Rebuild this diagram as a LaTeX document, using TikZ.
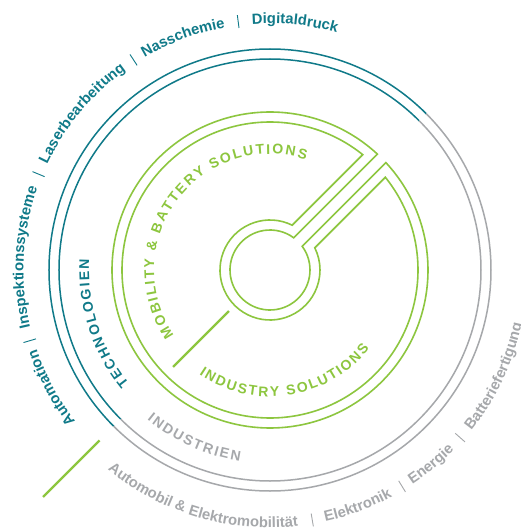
\documentclass[tikz,border=0pt]{standalone}
\usepackage{fontspec}
\setmainfont{Liberation Sans}

\definecolor{ringteal}{RGB}{16,122,137}
\definecolor{ringgray}{RGB}{166,168,171}
\definecolor{ringlime}{RGB}{141,198,63}

\newcommand\lblfont{\fontsize{14.8pt}{17pt}\selectfont\bfseries}
\newcommand\capfont{\fontsize{14pt}{16pt}\selectfont\bfseries}

\tikzset{
  ringline/.style={line width=1.5pt},
  keyline/.style={draw=ringlime, line width=1.6pt},
  spokeline/.style={draw=ringlime, line width=2.2pt},
  sepline/.style={line width=0.9pt},
  arcchar/.style={anchor=base, inner sep=0pt, outer sep=0pt}
}

% letters set one by one round a circle:
% colour, font, letter space, radius, mid angle, +1 ccw / -1 cw, text
\ExplSyntaxOn
\dim_new:N \l__arc_total_dim
\dim_new:N \l__arc_pos_dim
\box_new:N \l__arc_box
\fp_new:N \l__arc_ang_fp
\tl_new:N \l__arc_x_tl
\tl_new:N \l__arc_y_tl
\tl_new:N \l__arc_rot_tl
\cs_new_protected:Npn \__arc_measure:nn #1#2
  {
    \tl_if_blank:nTF {#2}
      { \hbox_set:Nn \l__arc_box { \pgfinterruptpicture #1 \hspace{0.278em} \endpgfinterruptpicture } }
      { \hbox_set:Nn \l__arc_box { \pgfinterruptpicture #1 #2 \endpgfinterruptpicture } }
  }
\NewDocumentCommand \arclabel { m m m m m m m }
  {
    \dim_zero:N \l__arc_total_dim
    \str_map_inline:nn {#7}
      {
        \__arc_measure:nn {#2} {##1}
        \dim_add:Nn \l__arc_total_dim { \box_wd:N \l__arc_box + #3 }
      }
    \dim_sub:Nn \l__arc_total_dim {#3}
    \dim_zero:N \l__arc_pos_dim
    \str_map_inline:nn {#7}
      {
        \__arc_measure:nn {#2} {##1}
        \fp_set:Nn \l__arc_ang_fp
          { #5 + #6 * ( \dim_to_fp:n { \l__arc_pos_dim + 0.5 \box_wd:N \l__arc_box - 0.5 \l__arc_total_dim } ) / (#4) * 180 / pi }
        \tl_set:Nx \l__arc_x_tl { \fp_eval:n { #4 * cosd ( \l__arc_ang_fp ) } }
        \tl_set:Nx \l__arc_y_tl { \fp_eval:n { #4 * sind ( \l__arc_ang_fp ) } }
        \tl_set:Nx \l__arc_rot_tl { \fp_eval:n { \l__arc_ang_fp + #6 * 90 } }
        \tl_if_blank:nF {##1} { \__arc_char:nnn {#1} {#2} {##1} }
        \dim_add:Nn \l__arc_pos_dim { \box_wd:N \l__arc_box + #3 }
      }
  }
\cs_new_protected:Npn \__arc_char:nnn #1#2#3
  {
    \node [ arcchar, text=#1, font=#2, rotate=\l__arc_rot_tl ]
      at (\l__arc_x_tl pt, \l__arc_y_tl pt) {#3};
  }
\ExplSyntaxOff

\begin{document}
\begin{tikzpicture}
\path[use as bounding box, fill=white] (-270pt,-258pt) rectangle (250pt,270pt);
\coordinate (c) at (0,0);

\draw[ringline, ringteal] (45:221pt) arc[start angle=45, end angle=225, radius=221pt];
\draw[ringline, ringteal] (45:211pt) arc[start angle=45, end angle=225, radius=211pt];
\draw[ringline, ringgray] (225:221pt) arc[start angle=225, end angle=405, radius=221pt];
\draw[ringline, ringgray] (225:211pt) arc[start angle=225, end angle=405, radius=211pt];

\pgfmathsetmacro\ain{asin(6/40)}
\pgfmathsetmacro\aout{asin(6/158)}
\pgfmathsetmacro\bin{asin(16/50)}
\pgfmathsetmacro\bout{asin(16/148)}

\draw[keyline] (45+\ain:40pt) arc[start angle=45+\ain, end angle=405-\ain, radius=40pt]
  -- (45-\aout:158pt) arc[start angle=405-\aout, end angle=45+\aout, radius=158pt] -- cycle;
\draw[keyline] (45+\bin:50pt) arc[start angle=45+\bin, end angle=405-\bin, radius=50pt]
  -- (45-\bout:148pt) arc[start angle=405-\bout, end angle=45+\bout, radius=148pt] -- cycle;

\coordinate (spokein) at (225:58pt);
\coordinate (spokemid) at (225:137pt);
\coordinate (spokeout) at (225:241pt);
\coordinate (spokeend) at (225:321pt);
\draw[spokeline] (spokein) -- (spokemid);
\draw[spokeline] (spokeout) -- (spokeend);

% Technologien
\arclabel{ringteal}{\lblfont}{0pt}{246.5}{208.3}{-1}{Automation}
\arclabel{ringteal}{\lblfont}{0pt}{246.5}{177}{-1}{Inspektionssysteme}
\arclabel{ringteal}{\lblfont}{0pt}{246.5}{140.2}{-1}{Laserbearbeitung}
\arclabel{ringteal}{\lblfont}{0pt}{246.5}{110.5}{-1}{Nasschemie}
\arclabel{ringteal}{\lblfont}{0pt}{246.5}{84.2}{-1}{Digitaldruck}
\draw[sepline, ringteal] (196.4:244pt) -- (196.4:257pt);
\draw[sepline, ringteal] (157.5:244pt) -- (157.5:257pt);
\draw[sepline, ringteal] (123:244pt) -- (123:257pt);
\draw[sepline, ringteal] (97.3:244pt) -- (97.3:257pt);

% Industrien
\arclabel{ringgray}{\lblfont}{0pt}{257.5}{253.6}{1}{Automobil & Elektromobilität}
\arclabel{ringgray}{\lblfont}{0pt}{257.5}{290.4}{1}{Elektronik}
\arclabel{ringgray}{\lblfont}{0pt}{257.5}{309.6}{1}{Energie}
\arclabel{ringgray}{\lblfont}{0pt}{257.5}{334.7}{1}{Batteriefertigung}
\draw[sepline, ringgray] (279.6:247pt) -- (279.6:260pt);
\draw[sepline, ringgray] (301.4:247pt) -- (301.4:260pt);
\draw[sepline, ringgray] (318.6:247pt) -- (318.6:260pt);

\arclabel{ringteal}{\capfont}{1.9pt}{181}{197.8}{-1}{TECHNOLOGIEN}
\arclabel{ringgray}{\capfont}{1.9pt}{193.5}{245.8}{1}{INDUSTRIEN}
\arclabel{ringlime}{\capfont}{1.9pt}{116}{143.1}{-1}{MOBILITY & BATTERY SOLUTIONS}
\arclabel{ringlime}{\capfont}{1.9pt}{126.5}{278.8}{1}{INDUSTRY SOLUTIONS}
\end{tikzpicture}
\end{document}
